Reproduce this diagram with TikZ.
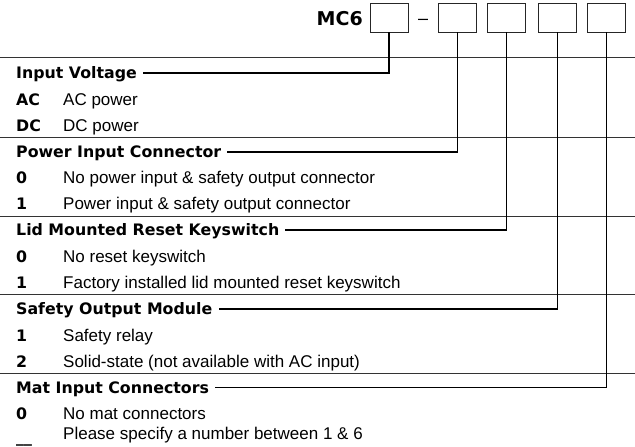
\documentclass[tikz,border=0pt]{standalone}
\usepackage{fontspec}
\setmainfont{Liberation Sans}
\newfontfamily\headfont{DejaVu Sans}
\usetikzlibrary{calc}
\begin{document}
\begin{tikzpicture}[x=1bp,y=-1bp,
  headtxt/.style={font=\headfont\bfseries\fontsize{15.8bp}{18bp}\selectfont, anchor=base west, inner sep=0pt, text height=11.5bp, text depth=0pt},
  codetxt/.style={font=\headfont\bfseries\fontsize{15.8bp}{18bp}\selectfont, anchor=base west, inner sep=0pt},
  desctxt/.style={font=\fontsize{17bp}{19bp}\selectfont, anchor=base west, inner sep=0pt},
  slot/.style={draw=black!85, line width=0.9bp, minimum width=38bp, minimum height=29bp, inner sep=0pt},
  stem/.style={line width=1.9bp, draw=black},
  rulesep/.style={line width=0.9bp, draw=black!80}]
\useasboundingbox (0,0) rectangle (635,447);
% header
\node[font=\headfont\bfseries\fontsize{19bp}{21bp}\selectfont, anchor=base east, inner sep=0pt] (mc) at (363,26) {MC6};
\node[slot] (b1) at (389,17.5) {};
\node[font=\fontsize{18bp}{20bp}\selectfont, anchor=base, inner sep=0pt] (dash) at (423,25) {–};
\node[slot] (b2) at (457.5,17.5) {};
\node[slot] (b3) at (506.5,17.5) {};
\node[slot] (b4) at (557.5,17.5) {};
\node[slot] (b5) at (606.5,17.5) {};
\draw[rulesep] (0,57) -- (635,57);
% rows: centre y = 73 + 26.2 i, baseline about 6bp lower
\node[headtxt] (h1) at (16,78.8) {Input Voltage};
\node[codetxt] (c1a) at (16,105.2) {AC};
\node[desctxt] (d1a) at (63,105.2) {AC power};
\node[codetxt] (c1b) at (16,131.4) {DC};
\node[desctxt] (d1b) at (63,131.4) {DC power};
\draw[rulesep] (0,137.5) -- (635,137.5);
\node[headtxt] (h2) at (16,157.4) {Power Input Connector};
\node[codetxt] (c2a) at (16,183.8) {0};
\node[desctxt] (d2a) at (63,183.8) {No power input \& safety output connector};
\node[codetxt] (c2b) at (16,210) {1};
\node[desctxt] (d2b) at (63,210) {Power input \& safety output connector};
\draw[rulesep] (0,216.1) -- (635,216.1);
\node[headtxt] (h3) at (16,236) {Lid Mounted Reset Keyswitch};
\node[codetxt] (c3a) at (16,262.4) {0};
\node[desctxt] (d3a) at (63,262.4) {No reset keyswitch};
\node[codetxt] (c3b) at (16,288.6) {1};
\node[desctxt] (d3b) at (63,288.6) {Factory installed lid mounted reset keyswitch};
\draw[rulesep] (0,294.7) -- (635,294.7);
\node[headtxt] (h4) at (16,314.6) {Safety Output Module};
\node[codetxt] (c4a) at (16,341) {1};
\node[desctxt] (d4a) at (63,341) {Safety relay};
\node[codetxt] (c4b) at (16,367.2) {2};
\node[desctxt] (d4b) at (63,367.2) {Solid-state (not available with AC input)};
\draw[rulesep] (0,373.3) -- (635,373.3);
\node[headtxt] (h5) at (16,393.2) {Mat Input Connectors};
\node[codetxt] (c5a) at (16,419.6) {0};
\node[desctxt] (d5a) at (63,419.6) {No mat connectors};
\node[desctxt] (d5b) at (63,439.5) {Please specify a number between 1 \& 6};
\node[codetxt] (c5b) at (16,442) {\_\_};
% stems
\draw[stem] (b1.south) |- ([xshift=6bp]h1.east);
\draw[stem] (b2.south) |- ([xshift=6bp]h2.east);
\draw[stem] (b3.south) |- ([xshift=6bp]h3.east);
\draw[stem] (b4.south) |- ([xshift=6bp]h4.east);
\draw[stem] (b5.south) |- ([xshift=6bp]h5.east);
\end{tikzpicture}
\end{document}
